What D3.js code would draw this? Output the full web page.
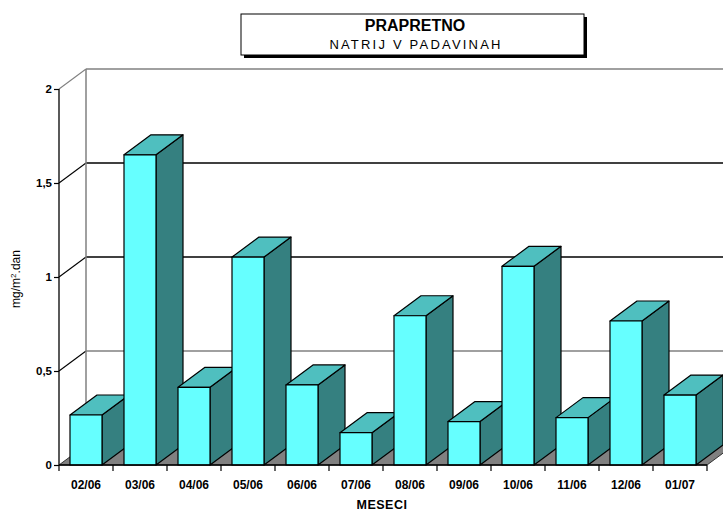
<!DOCTYPE html>
<html>
<head>
<meta charset="utf-8">
<script src="https://cdn.jsdelivr.net/npm/d3@7"></script>
<style>
  html, body { margin: 0; padding: 0; background: #fff; }
  svg { display: block; }
  text { font-family: "Liberation Sans", Arial, sans-serif; }
</style>
</head>
<body>
<svg id="chart" width="723" height="511"></svg>
<script>
// Monthly sodium deposition in precipitation, Prapretno
const months = ["02/06", "03/06", "04/06", "05/06", "06/06", "07/06",
                "08/06", "09/06", "10/06", "11/06", "12/06", "01/07"];
const sodium = [0.266, 1.65, 0.413, 1.106, 0.426, 0.172,
                0.794, 0.231, 1.057, 0.252, 0.766, 0.372];
const yTicks = [0, 0.5, 1, 1.5, 2];
const yTickLabels = ["0", "0,5", "1", "1,5", "2"];

const titleMain = "PRAPRETNO";
const titleSub = "NATRIJ V PADAVINAH";
const xTitle = "MESECI";

const W = 723;
const plotL = 59, plotR = 707, plotB = 465, plotT = 89;
const depthX = 27, depthY = -20;

const svg = d3.select("#chart");

const y = d3.scaleLinear().domain([0, 2]).range([plotB, plotT]);
const xBand = d3.scaleBand().domain(months).range([plotL, plotR])
  .paddingInner(22 / 54).paddingOuter(11 / 54);
const xCell = d3.scaleBand().domain(months).range([plotL, plotR]).padding(0);

const colFront = "#66ffff", colTop = "#4fbfbf", colSide = "#358080";

// Back wall gridlines and left wall diagonals
const grid = svg.append("g");
yTicks.forEach(t => {
  if (t === 0) return;
  const yy = y(t);
  const lineCol = (t === 1 || t === 1.5) ? "#000" : "#808080";
  grid.append("line")
    .attr("x1", plotL + depthX).attr("x2", W)
    .attr("y1", yy + depthY).attr("y2", yy + depthY)
    .attr("stroke", lineCol).attr("stroke-width", 1.3);
  grid.append("line")
    .attr("x1", plotL).attr("x2", plotL + depthX)
    .attr("y1", yy).attr("y2", yy + depthY)
    .attr("stroke", t === 2 ? "#808080" : "#000").attr("stroke-width", 1.1);
});
// Back wall left edge
grid.append("line")
  .attr("x1", plotL + depthX).attr("x2", plotL + depthX)
  .attr("y1", y(2) + depthY).attr("y2", y(0) + depthY)
  .attr("stroke", "#808080").attr("stroke-width", 1.5);

// Floor
svg.append("path")
  .attr("d", `M${plotL},${plotB} L${plotR},${plotB} L${plotR + depthX},${plotB + depthY} L${plotL + depthX},${plotB + depthY} Z`)
  .attr("fill", "#808080").attr("stroke", "#333").attr("stroke-width", 1);

// Bars, drawn left to right so each front face covers the previous side face
const bars = svg.append("g").attr("stroke", "#000").attr("stroke-width", 1.2)
  .attr("stroke-linejoin", "round");
months.forEach((m, i) => {
  const x0 = xBand(m), x1 = x0 + xBand.bandwidth();
  const yt = y(sodium[i]), yb = y(0);
  const g = bars.append("g");
  g.append("path")
    .attr("d", `M${x1},${yb} L${x1 + depthX},${yb + depthY} L${x1 + depthX},${yt + depthY} L${x1},${yt} Z`)
    .attr("fill", colSide);
  g.append("path")
    .attr("d", `M${x0},${yt} L${x0 + depthX},${yt + depthY} L${x1 + depthX},${yt + depthY} L${x1},${yt} Z`)
    .attr("fill", colTop);
  g.append("rect")
    .attr("x", x0).attr("y", yt)
    .attr("width", x1 - x0).attr("height", yb - yt)
    .attr("fill", colFront);
});

// Y axis
const yAxis = d3.axisLeft(y).tickValues(yTicks)
  .tickFormat((d, i) => yTickLabels[i]).tickSize(5).tickPadding(2);
const gy = svg.append("g").attr("transform", `translate(${plotL},0)`).call(yAxis);
gy.select(".domain").attr("stroke", "#000").attr("stroke-width", 1.3)
  .attr("d", `M0,${plotT}V${plotB}`);
gy.selectAll(".tick line").attr("stroke", "#000").attr("stroke-width", 1.2);
gy.selectAll(".tick text").attr("font-size", 11.5).attr("font-weight", "bold")
  .attr("fill", "#000").attr("font-family", "'Liberation Sans', Arial, sans-serif");

// X axis: ticks at cell boundaries, labels centered in cells
const gx = svg.append("g");
gx.append("line").attr("x1", plotL).attr("x2", plotR)
  .attr("y1", plotB).attr("y2", plotB)
  .attr("stroke", "#000").attr("stroke-width", 1.4);
const bounds = months.map(m => xCell(m)).concat([plotR]);
gx.selectAll("line.tk").data(bounds).join("line").attr("class", "tk")
  .attr("x1", d => d).attr("x2", d => d)
  .attr("y1", plotB).attr("y2", plotB + 6)
  .attr("stroke", "#000").attr("stroke-width", 1.2);
gx.selectAll("text").data(months).join("text")
  .attr("x", d => xCell(d) + xCell.bandwidth() / 2)
  .attr("y", 489)
  .attr("text-anchor", "middle")
  .attr("font-size", 12).attr("font-weight", "bold")
  .text(d => d);

svg.append("text")
  .attr("x", 382).attr("y", 509)
  .attr("text-anchor", "middle")
  .attr("font-size", 12.5).attr("font-weight", "bold")
  .attr("letter-spacing", 0.5)
  .text(xTitle);

// Y axis title
const yTitle = svg.append("text")
  .attr("transform", "translate(20,279) rotate(-90)")
  .attr("text-anchor", "middle")
  .attr("font-size", 12);
yTitle.append("tspan").text("mg/m");
yTitle.append("tspan").attr("baseline-shift", "super").attr("font-size", 8).text("2");
yTitle.append("tspan").text(".dan");

// Title box with drop shadow
const box = svg.append("g");
box.append("rect").attr("x", 244).attr("y", 17).attr("width", 343).attr("height", 41).attr("fill", "#000");
box.append("rect").attr("x", 241).attr("y", 14).attr("width", 343).attr("height", 41)
  .attr("fill", "#fff").attr("stroke", "#000").attr("stroke-width", 1);
box.append("text").attr("x", 415).attr("y", 31).attr("text-anchor", "middle")
  .attr("font-size", 16).attr("font-weight", "bold").text(titleMain);
box.append("text").attr("x", 416).attr("y", 49).attr("text-anchor", "middle")
  .attr("font-size", 13).attr("letter-spacing", 2.2).text(titleSub);
</script>
</body>
</html>
